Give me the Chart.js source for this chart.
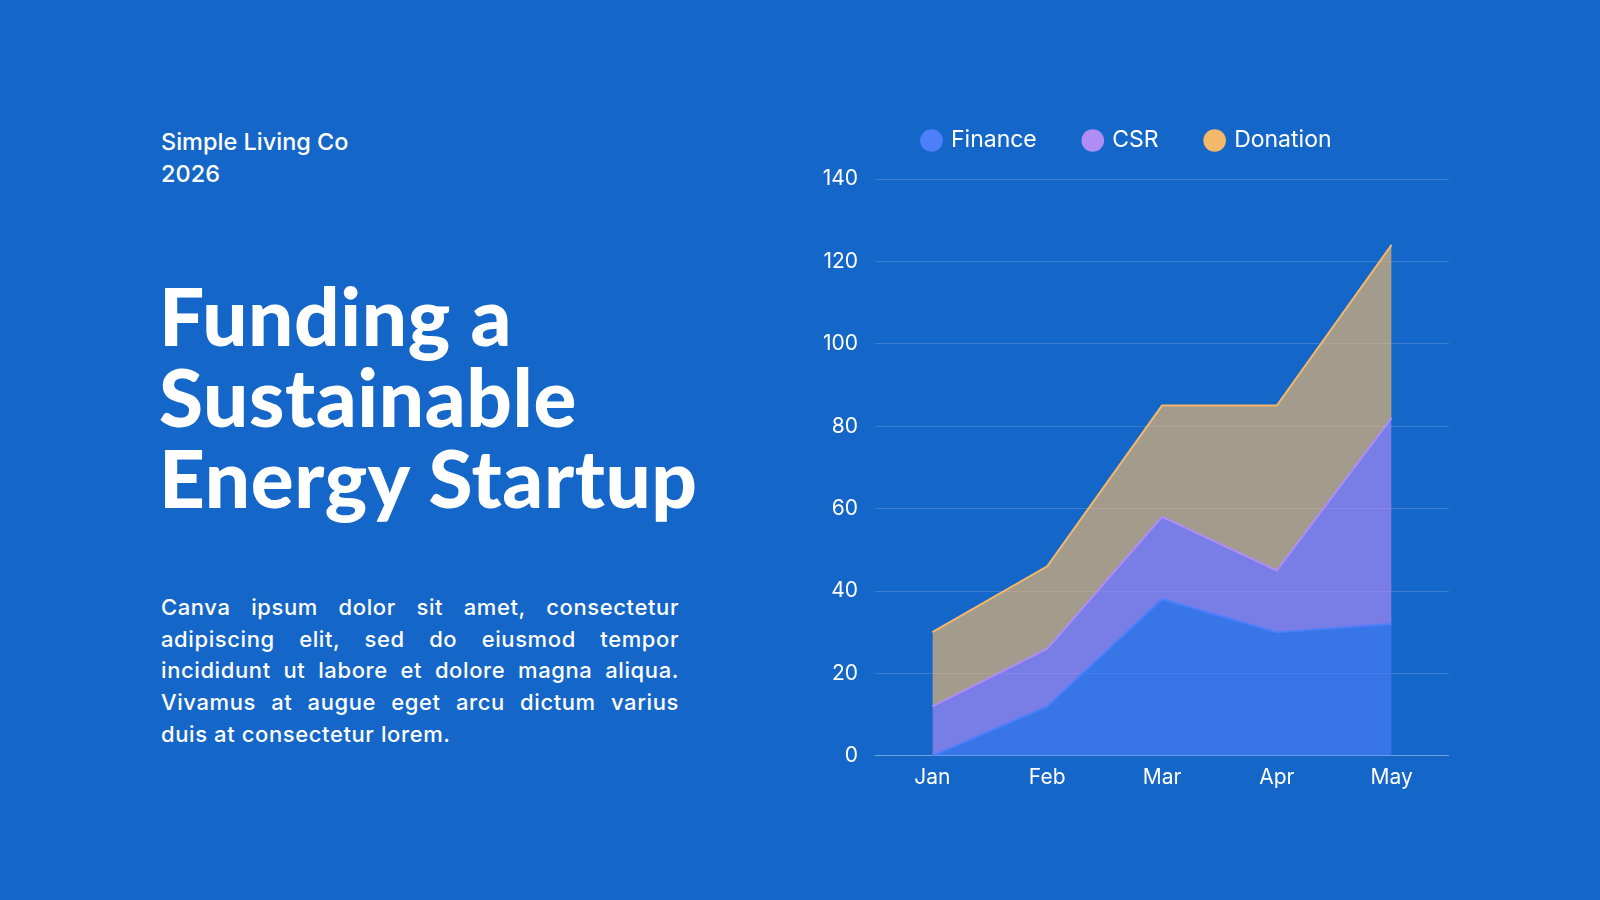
<!DOCTYPE html>
<html lang="en">
  <head>
    <meta charset="UTF-8" />
    <title>Funding a Sustainable Energy Startup</title>
    <script src="https://cdn.jsdelivr.net/npm/chart.js"></script>
    <style>
      html, body { margin: 0; padding: 0; }
      body {
        width: 1600px;
        height: 900px;
        background: #1466c8;
        color: #fff;
        font-family: "Inter", "Open Sans", sans-serif;
        position: relative;
        overflow: hidden;
      }
      .brand {
        position: absolute;
        left: 161px;
        top: 126px;
        font-size: 23.5px;
        line-height: 32px;
        font-weight: 500;
      }
      .title {
        position: absolute;
        left: 159px;
        top: 275px;
        font-family: "Lato", sans-serif;
        font-weight: 900;
        font-size: 80px;
        line-height: 81px;
        letter-spacing: 0.6px;
      }
      .desc {
        position: absolute;
        left: 161px;
        top: 592px;
        width: 518px;
        font-size: 22px;
        line-height: 31.7px;
        font-weight: 500;
        letter-spacing: 0.6px;
      }
      .desc span {
        display: block;
        white-space: nowrap;
        text-align: justify;
        text-align-last: justify;
      }
      .desc span.last { text-align-last: left; }
      .chart-box {
        position: absolute;
        left: 806px;
        top: 81px;
        width: 643px;
        height: 710px;
      }
    </style>
  </head>
  <body>
    <div class="brand">Simple Living Co<br />2026</div>
    <div class="title">Funding a<br />Sustainable<br />Energy Startup</div>
    <div class="desc">
      <span>Canva ipsum dolor sit amet, consectetur</span>
      <span>adipiscing elit, sed do eiusmod tempor</span>
      <span>incididunt ut labore et dolore magna aliqua.</span>
      <span>Vivamus at augue eget arcu dictum varius</span>
      <span class="last">duis at consectetur lorem.</span>
    </div>

    <div class="chart-box">
      <canvas id="chartDana"></canvas>
    </div>

    <script>
      const months = ["Jan", "Feb", "Mar", "Apr", "May"];
      const finance = [0, 12, 38, 30, 32];
      const csr = [12, 14, 20, 15, 50];
      const donation = [18, 20, 27, 40, 42];
      const yTicks = [0, 20, 40, 60, 80, 100, 120, 140];

      const warnaGaris = ["#4d7ffb", "#b08cf5", "#f4b86a"];
      const warnaIsi = [
        "rgba(77, 127, 251, 0.64)",
        "rgba(176, 140, 245, 0.64)",
        "rgba(244, 184, 106, 0.64)",
      ];

      Chart.defaults.font.family = "Inter, 'Open Sans', sans-serif";
      Chart.defaults.color = "#ffffff";

      // jarak ekstra antara legend dan area grafik
      const legendGap = {
        id: "legendGap",
        beforeInit(chart) {
          const fitAsli = chart.legend.fit;
          chart.legend.fit = function () {
            fitAsli.bind(chart.legend)();
            this.height += 17;
          };
        },
      };

      new Chart(document.getElementById("chartDana").getContext("2d"), {
        type: "line",
        data: {
          labels: months,
          datasets: [
            {
              label: "Finance",
              data: finance,
              borderColor: warnaGaris[0],
              backgroundColor: warnaIsi[0],
              fill: "origin",
            },
            {
              label: "CSR",
              data: csr,
              borderColor: warnaGaris[1],
              backgroundColor: warnaIsi[1],
              fill: "-1",
            },
            {
              label: "Donation",
              data: donation,
              borderColor: warnaGaris[2],
              backgroundColor: warnaIsi[2],
              fill: "-1",
            },
          ],
        },
        plugins: [legendGap],
        options: {
          responsive: true,
          maintainAspectRatio: false,
          animation: false,
          elements: {
            line: { borderWidth: 2, tension: 0 },
            point: { radius: 0 },
          },
          plugins: {
            tooltip: { enabled: false },
            legend: {
              position: "top",
              labels: {
                usePointStyle: true,
                pointStyle: "circle",
                boxWidth: 16,
                boxHeight: 16,
                padding: 48,
                font: { size: 23 },
                generateLabels: (chart) =>
                  Chart.defaults.plugins.legend.labels
                    .generateLabels(chart)
                    .map((item, i) => ({
                      ...item,
                      fillStyle: warnaGaris[i],
                      strokeStyle: warnaGaris[i],
                      lineWidth: 0,
                    })),
              },
            },
          },
          scales: {
            x: {
              offset: true,
              grid: { display: false },
              border: { color: "rgba(255,255,255,0.3)", width: 1 },
              ticks: { font: { size: 21 }, padding: 1 },
            },
            y: {
              stacked: true,
              min: 0,
              max: 140,
              afterBuildTicks: (scale) => {
                scale.ticks = yTicks.map((v) => ({ value: v }));
              },
              afterFit: (scale) => {
                scale.width = 69;
              },
              grid: {
                color: "rgba(255,255,255,0.16)",
                drawTicks: false,
              },
              border: { display: false },
              ticks: { font: { size: 21 }, padding: 17 },
            },
          },
        },
      });
    </script>
  </body>
</html>
